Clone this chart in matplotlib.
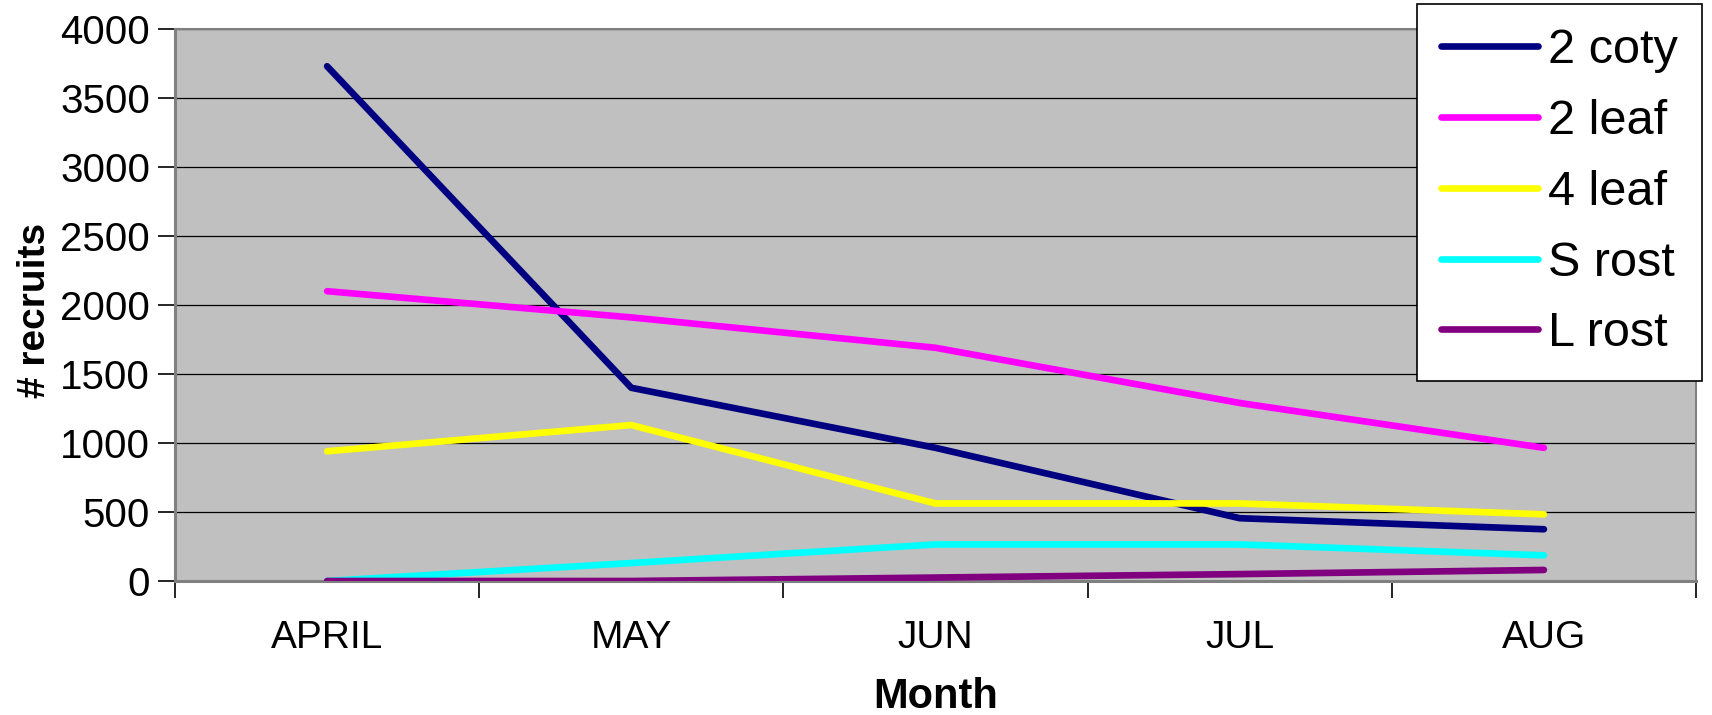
import numpy as np
import matplotlib.pyplot as plt

plt.rcParams['font.family'] = ['Liberation Sans', 'DejaVu Sans']

months = ["APRIL", "MAY", "JUN", "JUL", "AUG"]
coty2 = [3730, 1400, 965, 455, 375]
leaf2 = [2100, 1910, 1690, 1290, 965]
leaf4 = [940, 1130, 562, 562, 483]
s_rost = [0, 130, 265, 265, 186]
l_rost = [0, 0, 25, 50, 80]

series = [
    ("2 coty", coty2, "#000080"),
    ("2 leaf", leaf2, "#FF00FF"),
    ("4 leaf", leaf4, "#FFFF00"),
    ("S rost", s_rost, "#00FFFF"),
    ("L rost", l_rost, "#800080"),
]

fig = plt.figure(figsize=(17.12, 7.15), dpi=100)
ax = fig.add_axes([175 / 1712, 134 / 715, (1696 - 175) / 1712, (581 - 29) / 715])
ax.set_facecolor("#C0C0C0")

x = np.arange(len(months))
for name, vals, col in series:
    ax.plot(x, vals, color=col, lw=4.8, label=name, solid_capstyle="round", zorder=3)

ax.set_xlim(-0.5, len(months) - 0.5)
ax.set_ylim(0, 4000)
ax.set_yticks(np.arange(0, 4001, 500))
ax.yaxis.grid(True, color="black", lw=0.9, zorder=1)
ax.set_axisbelow(True)

ax.set_xticks(x)
ax.set_xticklabels(months)
ax.set_xticks(np.arange(-0.5, len(months), 1.0), minor=True)
ax.tick_params(axis="x", which="major", length=0, pad=28, labelsize=28)
ax.tick_params(axis="x", which="minor", length=12, width=1.2, color="black", direction="out")
ax.tick_params(axis="y", length=12, width=1.2, color="black", direction="out", pad=6, labelsize=29)

for side in ["left", "bottom"]:
    ax.spines[side].set_color("#808080")
    ax.spines[side].set_linewidth(2.2)
for side in ["top", "right"]:
    ax.spines[side].set_color("#808080")
    ax.spines[side].set_linewidth(1.5)

ax.set_xlabel("Month", fontsize=30, fontweight="bold", labelpad=15)
ax.set_ylabel("# recruits", fontsize=28, fontweight="bold")
ax.yaxis.set_label_coords(-0.08, 0.49)

leg = ax.legend(loc="upper right", bbox_to_anchor=(1702 / 1712, 1 - 4 / 715),
                bbox_transform=fig.transFigure, fontsize=35, frameon=True,
                fancybox=False, edgecolor="black", framealpha=1,
                handlelength=2.0, handletextpad=0.2, labelspacing=0.53,
                borderpad=0.5, borderaxespad=0)
leg.get_frame().set_linewidth(1.2)
leg.set_zorder(5)

fig.savefig("out.png", dpi=100)
